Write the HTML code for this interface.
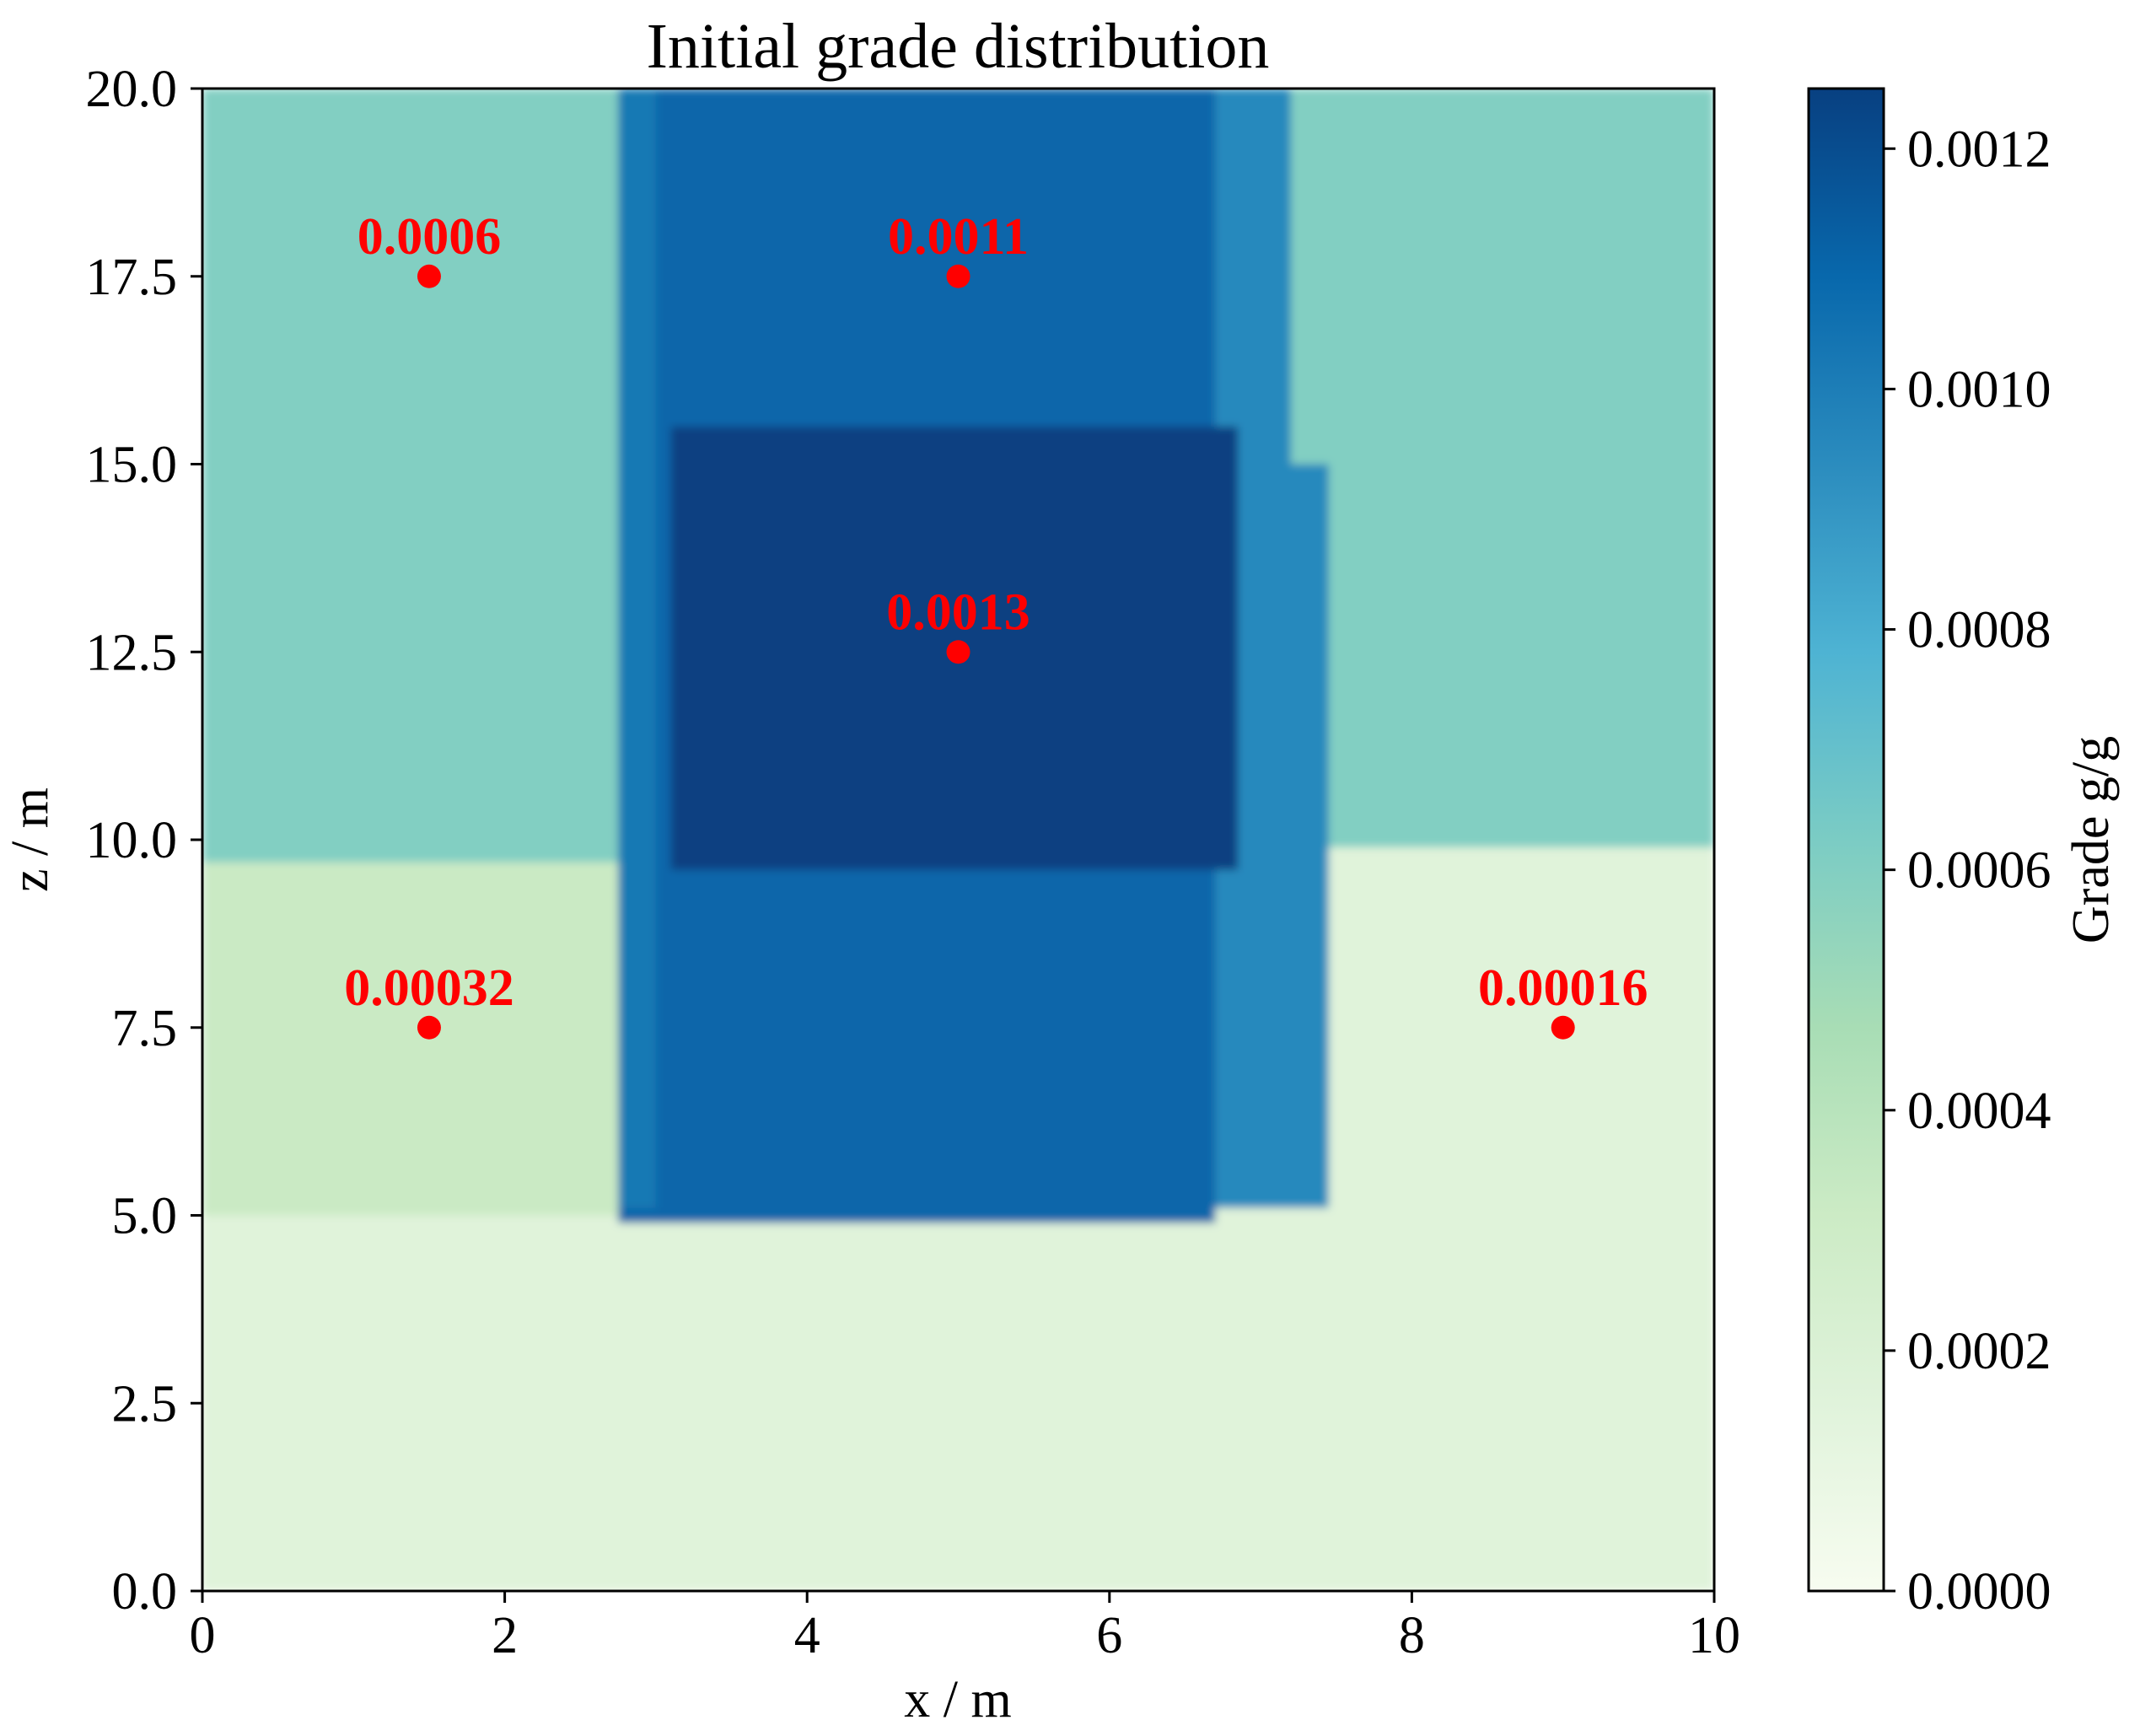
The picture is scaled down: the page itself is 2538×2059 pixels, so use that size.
<!DOCTYPE html>
<html><head><meta charset="utf-8"><style>
html,body{margin:0;padding:0;background:#fff;}
svg{display:block;font-family:"Liberation Serif",serif;}
</style></head><body>
<svg id="chart" width="2538" height="2059" viewBox="0 0 2538 2059" xmlns="http://www.w3.org/2000/svg">
<defs>
<clipPath id="pc"><rect x="240" y="105" width="1793" height="1782"/></clipPath>
<filter id="bl" x="-5%" y="-5%" width="110%" height="110%"><feGaussianBlur stdDeviation="5"/></filter>
<linearGradient id="cbg" x1="0" y1="1" x2="0" y2="0">
<stop offset="0" stop-color="#f7fcf0"/><stop offset="0.125" stop-color="#e0f3db"/><stop offset="0.25" stop-color="#ccebc5"/><stop offset="0.375" stop-color="#a8ddb5"/><stop offset="0.5" stop-color="#7bccc4"/><stop offset="0.625" stop-color="#4eb3d3"/><stop offset="0.75" stop-color="#2b8cbe"/><stop offset="0.875" stop-color="#0868ac"/><stop offset="1" stop-color="#084081"/>
</linearGradient>
</defs>
<g id="field" clip-path="url(#pc)"><g id="regions" filter="url(#bl)"></g></g>
<rect x="240" y="105" width="1793" height="1782" fill="none" stroke="#000" stroke-width="3"/>
<g id="xaxis"></g>
<g id="yaxis"></g>
<g id="pts"></g>
<text x="1136" y="80" font-size="76" text-anchor="middle">Initial grade distribution</text>
<text x="1136" y="2036" font-size="62" text-anchor="middle">x / m</text>
<text x="0" y="0" font-size="62" text-anchor="middle" transform="translate(56,996) rotate(-90)">z / m</text>
<rect x="2145" y="105" width="89" height="1782" fill="url(#cbg)" stroke="#000" stroke-width="3"/>
<g id="cbaxis"></g>
<text x="0" y="0" font-size="62" text-anchor="middle" transform="translate(2500,996) rotate(-90)">Grade g/g</text>
</svg>
<script>
const xTicks=[0,2,4,6,8,10];
const zTicks=["0.0","2.5","5.0","7.5","10.0","12.5","15.0","17.5","20.0"];
const cbTicks=["0.0000","0.0002","0.0004","0.0006","0.0008","0.0010","0.0012"];
const regX0=[0,0,6.6,0,7.0,6.5,6.5,2.75,2.75,3.0,3.1];
const regX1=[10,2.8,10,2.8,10,7.2,7.45,6.7,3.0,6.6,6.85];
const regZ0=[0,5,4.9,9.7,9.9,15,5.1,4.9,5.1,4.9,9.6];
const regZ1=[5,9.7,9.9,20,20,20,15,20,20,20,15.5];
const regVal=[0.00016,0.00032,0.00016,0.0006,0.0006,0.00095,0.00095,0.0011,0.00102,0.0011,0.0013];
const ptX=[1.5,5,5,1.5,9];
const ptZ=[17.5,17.5,12.5,7.5,7.5];
const ptLabel=["0.0006","0.0011","0.0013","0.00032","0.00016"];
const VMAX=0.00125;
const NS="http://www.w3.org/2000/svg";
const X=v=>240+v*179.3, Z=v=>1887-v*89.1, C=v=>1887-v/VMAX*1782;
const stops=["#f7fcf0","#e0f3db","#ccebc5","#a8ddb5","#7bccc4","#4eb3d3","#2b8cbe","#0868ac","#084081"];
function cmap(v){let t=Math.max(0,Math.min(1,v/VMAX))*8;let i=Math.min(7,Math.floor(t)),f=t-i;
const a=stops[i],b=stops[i+1];const p=(h,k)=>parseInt(h.substr(1+2*k,2),16);
return "rgb("+[0,1,2].map(k=>Math.round(p(a,k)+(p(b,k)-p(a,k))*f)).join(",")+")";}
function mk(tag,attrs,parent){const e=document.createElementNS(NS,tag);for(const k in attrs)e.setAttribute(k,attrs[k]);parent.appendChild(e);return e;}
const reg=document.getElementById('regions');
regVal.forEach((v,i)=>{const r=mk('rect',{x:X(regX0[i]),y:Z(regZ1[i]),width:X(regX1[i])-X(regX0[i]),height:Z(regZ0[i])-Z(regZ1[i]),fill:cmap(v)},reg);

});
const xa=document.getElementById('xaxis');
xTicks.forEach(t=>{const l=mk('line',{x1:X(t),x2:X(t),y1:1887,y2:1901,stroke:'#000','stroke-width':3},xa);


const tx=mk('text',{x:X(t),y:1960,'font-size':62,'text-anchor':'middle'},xa);tx.textContent=t;

});
const ya=document.getElementById('yaxis');
zTicks.forEach(t=>{const v=parseFloat(t);const l=mk('line',{x1:226,x2:240,y1:Z(v),y2:Z(v),stroke:'#000','stroke-width':3},ya);


const tx=mk('text',{x:210,y:Z(v)+21,'font-size':62,'text-anchor':'end'},ya);tx.textContent=t;

});
const ca=document.getElementById('cbaxis');
cbTicks.forEach(t=>{const v=parseFloat(t);const l=mk('line',{x1:2234,x2:2248,y1:C(v),y2:C(v),stroke:'#000','stroke-width':3},ca);


const tx=mk('text',{x:2262,y:C(v)+21,'font-size':62},ca);tx.textContent=t;

});
const pg=document.getElementById('pts');
ptX.forEach((x,i)=>{const c=mk('circle',{cx:X(x),cy:Z(ptZ[i]),r:14,fill:'#ff0000'},pg);


const tx=mk('text',{x:X(x),y:Z(ptZ[i])-27,'font-size':62,'font-weight':'bold',fill:'#ff0000','text-anchor':'middle'},pg);tx.textContent=ptLabel[i];

});
</script>
</body></html>
